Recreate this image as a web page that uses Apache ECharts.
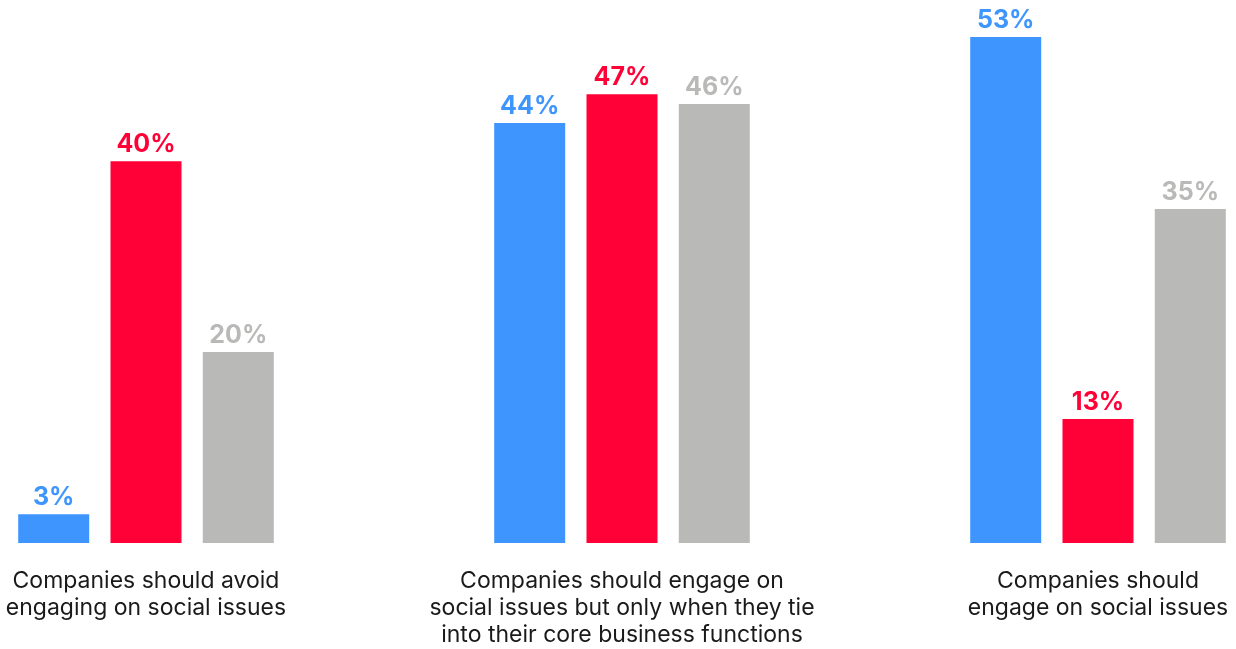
<!DOCTYPE html>
<html>
<head>
<meta charset="utf-8">
<script src="https://cdn.jsdelivr.net/npm/echarts@6/dist/echarts.min.js"></script>
<style>
  html, body { margin: 0; padding: 0; background: #ffffff; }
  #chart { width: 1236px; height: 649px; }
</style>
</head>
<body>
<div id="chart"></div>
<script>
// Survey categories (one group of bars each)
const categories = [
  'Companies should avoid\nengaging on social issues',
  'Companies should engage on\nsocial issues but only when they tie\ninto their core business functions',
  'Companies should\nengage on social issues'
];

// Share of respondents (%) per audience segment
const seriesBlue = [3, 44, 53];
const seriesRed = [40, 47, 13];
const seriesGray = [20, 46, 35];

const colors = {
  blue: '#3e95fe',
  red: '#ff0037',
  gray: '#b9b9b8'
};

const FONT = 'Inter, "Noto Sans", sans-serif';

function barSeries(name, data, color) {
  return {
    name: name,
    type: 'bar',
    data: data,
    barWidth: 71,
    barGap: '30%',
    clip: false,
    itemStyle: { color: color },
    label: {
      show: true,
      position: 'top',
      distance: 4,
      formatter: '{c}%',
      color: color,
      fontFamily: FONT,
      fontWeight: 'bold',
      fontSize: 25
    },
    emphasis: { disabled: true }
  };
}

const chart = echarts.init(document.getElementById('chart'), null, { renderer: 'canvas' });
chart.setOption({
  animation: false,
  backgroundColor: '#ffffff',
  grid: { left: 146, right: 138, top: 18, bottom: 97, containLabel: false },
  xAxis: {
    type: 'category',
    data: categories,
    boundaryGap: false,
    axisLine: { show: false },
    axisTick: { show: false },
    splitLine: { show: false },
    axisLabel: {
      interval: 0,
      margin: 25,
      color: '#1a1a1a',
      fontFamily: FONT,
      fontSize: 23,
      lineHeight: 27,
      align: 'center'
    }
  },
  yAxis: {
    type: 'value',
    min: 0,
    max: 55,
    show: false,
    splitLine: { show: false }
  },
  series: [
    barSeries('Blue', seriesBlue, colors.blue),
    barSeries('Red', seriesRed, colors.red),
    barSeries('Gray', seriesGray, colors.gray)
  ]
});
</script>
</body>
</html>
